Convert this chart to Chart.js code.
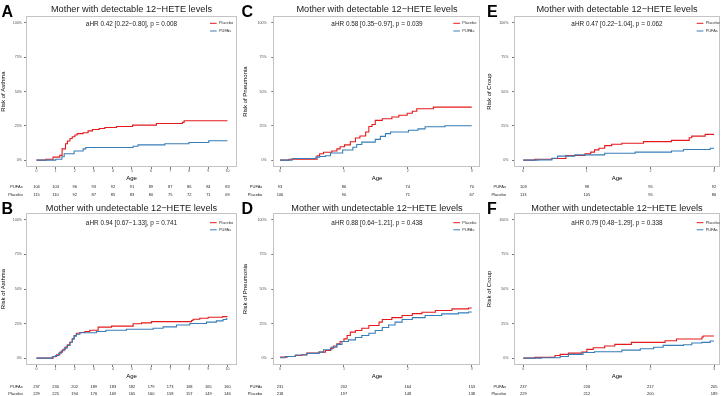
<!DOCTYPE html>
<html>
<head>
<meta charset="utf-8">
<script src="https://cdn.jsdelivr.net/npm/chart.js@4.4.1/dist/chart.umd.min.js"></script>
<style>
  body { margin: 0; background: #fff; }
  #wrap { position: relative; width: 724px; height: 396px; }
  #wrap canvas { position: absolute; left: 0; top: 0; }
</style>
</head>
<body>
<div id="wrap">
  <canvas id="pA" width="724" height="396"></canvas>
  <canvas id="pB" width="724" height="396"></canvas>
  <canvas id="pC" width="724" height="396"></canvas>
  <canvas id="pD" width="724" height="396"></canvas>
  <canvas id="pE" width="724" height="396"></canvas>
  <canvas id="pF" width="724" height="396"></canvas>
</div>
<script>
"use strict"

const ageTicks10 = [0, 1, 2, 3, 4, 5, 6, 7, 8, 9, 10];
const ageTicks3 = [0, 1, 2, 3];
const riskTicks = [0, 25, 50, 75, 100];
const groups = ["Placebo", "PUFAs"];

// A - asthma, detectable 12-HETE
const asthmaDetPlaceboAge = [0, 0.49, 0.87, 1.22, 1.34, 1.52, 1.62, 1.75, 1.87, 2.01, 2.13, 2.44, 2.7, 2.93, 3.28, 3.58, 4.19, 5.03, 6.28, 7.64, 7.73, 10];
const asthmaDetPlaceboRisk = [0, 0.7, 2.2, 3.5, 8.2, 11.9, 13.9, 15.8, 17, 18.3, 19.3, 20, 21.3, 22.3, 23, 23.8, 24.5, 25.5, 26.7, 27.5, 28.7, 28.7];
const asthmaDetPufaAge = [0, 1.01, 1.33, 1.45, 1.97, 2.44, 2.58, 5.06, 5.32, 6.72, 7.98, 9.02, 10];
const asthmaDetPufaRisk = [0, 0.7, 2.5, 4.7, 6.7, 8.2, 9.2, 10.1, 11.1, 11.9, 12.9, 14.1, 14.1];
const asthmaDetAtRiskPufa = [104, 103, 96, 93, 92, 91, 89, 87, 86, 84, 83];
const asthmaDetAtRiskPlacebo = [115, 110, 92, 87, 85, 83, 80, 75, 72, 71, 69];

// B - asthma, undetectable
const asthmaUndPlaceboAge = [0, 0.87, 1.05, 1.22, 1.36, 1.5, 1.62, 1.75, 1.87, 1.97, 2.09, 2.27, 2.53, 2.79, 3.23, 3.93, 5.06, 5.5, 6.02, 8.12, 8.2, 8.55, 8.99, 9.74, 10];
const asthmaUndPlaceboRisk = [0, 1.2, 2.4, 4.3, 6, 7.9, 9.6, 11.5, 13.9, 16.3, 18, 18.5, 19.2, 20.2, 22.4, 23.1, 24.8, 25.5, 26.4, 27.2, 28.1, 28.8, 29.6, 30, 30];
const asthmaUndPufaAge = [0, 0.82, 0.99, 1.17, 1.31, 1.45, 1.6, 1.75, 1.88, 1.97, 2.09, 2.27, 3.14, 3.63, 4.71, 6.11, 6.63, 7.33, 8.03, 8.9, 9.42, 9.77, 9.95, 10];
const asthmaUndPufaRisk = [0, 1, 1.9, 3.6, 5.3, 7.2, 9.1, 11.5, 13.9, 15.9, 17.3, 18.3, 19.2, 20.2, 20.9, 21.6, 22.6, 24, 25, 26, 26.9, 27.9, 28.4, 28.4];
const asthmaUndAtRiskPufa = [237, 230, 202, 189, 183, 182, 179, 173, 168, 165, 160];
const asthmaUndAtRiskPlacebo = [229, 225, 194, 176, 169, 165, 160, 158, 157, 149, 146];

// C - pneumonia, detectable
const pneuDetPlaceboAge = [0, 0.14, 0.58, 0.62, 0.68, 0.81, 0.89, 0.94, 1.01, 1.1, 1.18, 1.25, 1.34, 1.39, 1.44, 1.49, 1.6, 1.75, 1.86, 1.99, 2.07, 2.14, 2.4, 3];
const pneuDetPlaceboRisk = [0, 0.7, 3.2, 4.7, 5.7, 6.7, 8.2, 9.7, 11.1, 13.4, 16.1, 17.6, 20.5, 24.5, 26, 29, 30.2, 31.4, 32.7, 34.2, 35.6, 37.4, 38.6, 38.6];
const pneuDetPufaAge = [0, 0.19, 0.56, 0.62, 0.71, 0.79, 0.98, 1.14, 1.2, 1.28, 1.49, 1.57, 1.65, 1.73, 2.01, 2.16, 2.27, 2.58, 3];
const pneuDetPufaRisk = [0, 1.2, 2.2, 2.7, 3.2, 5.2, 7.4, 9.4, 11.4, 13.1, 15.1, 17.3, 19.3, 20.5, 21.8, 22.8, 24.3, 25, 25];
const pneuDetAtRiskPufa = [93, 86, 74, 70];
const pneuDetAtRiskPlacebo = [106, 90, 71, 67];

// D - pneumonia, undetectable
const pneuUndPlaceboAge = [0, 0.11, 0.24, 0.34, 0.42, 0.61, 0.71, 0.79, 0.84, 0.89, 0.94, 1.0, 1.05, 1.1, 1.18, 1.28, 1.39, 1.55, 1.6, 1.75, 1.91, 2.07, 2.22, 2.43, 2.69, 2.95, 3];
const pneuUndPlaceboRisk = [0.7, 1.2, 1.9, 2.4, 3.6, 4.3, 5.5, 7.2, 8.7, 10.3, 12, 13.9, 16.3, 18.8, 20, 21.6, 23.6, 26, 27.9, 29.3, 30.8, 32.2, 33.2, 34.4, 35.6, 36.3, 36.3];
const pneuUndPufaAge = [0, 0.08, 0.24, 0.42, 0.61, 0.68, 0.81, 0.89, 0.97, 1.07, 1.18, 1.28, 1.39, 1.49, 1.6, 1.7, 1.8, 1.91, 2.07, 2.27, 2.53, 2.79, 2.95, 3];
const pneuUndPufaRisk = [0.2, 1.2, 2.2, 3.4, 4.3, 6, 7.9, 9.9, 12, 13.2, 14.9, 16.3, 18, 20, 22.1, 24, 26, 27.9, 29.3, 30.8, 32, 32.7, 33.4, 33.4];
const pneuUndAtRiskPufa = [231, 202, 164, 153];
const pneuUndAtRiskPlacebo = [218, 197, 148, 138];

// E - croup, detectable
const croupDetPlaceboAge = [0, 0.18, 0.45, 0.67, 0.97, 1.06, 1.12, 1.19, 1.28, 1.39, 1.55, 1.89, 2.33, 2.61, 2.65, 2.86, 3];
const croupDetPlaceboRisk = [0, 0.7, 1.2, 3.4, 4.6, 5.8, 7.5, 8.7, 10.6, 11.6, 12.3, 13.5, 14.4, 16.3, 17.5, 18.8, 18.8];
const croupDetPufaAge = [0, 0.24, 0.45, 0.54, 0.81, 1.28, 1.76, 2.33, 2.52, 2.94, 3];
const croupDetPufaRisk = [0, 0.2, 1.4, 2.9, 3.8, 5, 5.8, 6.7, 7.7, 8.7, 8.7];
const croupDetAtRiskPufa = [103, 98, 95, 92];
const croupDetAtRiskPlacebo = [113, 105, 95, 86];

// F - croup, undetectable
const croupUndPlaceboAge = [0, 0.18, 0.5, 0.58, 0.71, 0.92, 1.0, 1.1, 1.28, 1.44, 1.7, 2.23, 2.41, 2.81, 2.83, 3];
const croupUndPlaceboRisk = [0, 0.5, 1.9, 2.7, 3.6, 4.4, 6.3, 7.5, 8.7, 9.9, 11.4, 12.6, 13.8, 15.3, 16, 16];
const croupUndPufaAge = [0, 0.29, 0.58, 0.71, 0.94, 1.12, 1.55, 1.84, 2.05, 2.2, 2.52, 2.65, 2.81, 2.94, 3];
const croupUndPufaRisk = [0, 0.2, 1.2, 2.7, 4.1, 4.6, 5.8, 6.8, 7.8, 9.2, 9.7, 10.9, 11.4, 12.4, 12.4];
const croupUndAtRiskPufa = [237, 226, 217, 205];
const croupUndAtRiskPlacebo = [229, 212, 200, 189];

const placeboColor = "#E41A1C";
const pufaColor = "#377EB8";
const fontFam = '"Liberation Sans", Arial, sans-serif';
const detTitle = "Mother with detectable 12\u2212HETE levels";
const undTitle = "Mother with undetectable 12\u2212HETE levels";

// layout for the grid of panels (page pixels)
const rows = [
  { top: 16, bottom: 167, titleY: 11.5, hrY: 26, legY: [23.3, 31], axisBottom: 181.3, tabY: [186.5, 195], letterY: 16.5 },
  { top: 213, bottom: 365, titleY: 210.5, hrY: 224.5, legY: [222.7, 229.8], axisBottom: 379.7, tabY: [386.7, 394], letterY: 213.5 }
];
const cols = [
  { left: 26, right: 237, yAxisLeft: 0.5, tickPad: 2, letterX: 1.5, legX: 210, tabRight: 22.7 },
  { left: 273.3, right: 480.7, yAxisLeft: 242.3, tickPad: 4.6, letterX: 241.5, legX: 453.3, tabRight: 262.3 },
  { left: 514, right: 720, yAxisLeft: 486.5, tickPad: 3.5, letterX: 487, legX: 696.7, tabRight: 506 }
];

const panels = [
  { id: "pA", row: 0, col: 0, letter: "A", title: detTitle, yTitle: "Risk of Asthma", hr: "aHR 0.42 [0.22\u22120.80], p = 0.008",
    xMin: -0.55, xMax: 10.5, xTicks: ageTicks10,
    placebo: [asthmaDetPlaceboAge, asthmaDetPlaceboRisk], pufa: [asthmaDetPufaAge, asthmaDetPufaRisk],
    atRisk: [asthmaDetAtRiskPufa, asthmaDetAtRiskPlacebo] },
  { id: "pB", row: 1, col: 0, letter: "B", title: undTitle, yTitle: "Risk of Asthma", hr: "aHR 0.94 [0.67\u22121.33], p = 0.741",
    xMin: -0.55, xMax: 10.5, xTicks: ageTicks10,
    placebo: [asthmaUndPlaceboAge, asthmaUndPlaceboRisk], pufa: [asthmaUndPufaAge, asthmaUndPufaRisk],
    atRisk: [asthmaUndAtRiskPufa, asthmaUndAtRiskPlacebo] },
  { id: "pC", row: 0, col: 1, letter: "C", title: detTitle, yTitle: "Risk of Pneumonia", hr: "aHR 0.58 [0.35\u22120.97], p = 0.039",
    xMin: -0.105, xMax: 3.14, xTicks: ageTicks3,
    placebo: [pneuDetPlaceboAge, pneuDetPlaceboRisk], pufa: [pneuDetPufaAge, pneuDetPufaRisk],
    atRisk: [pneuDetAtRiskPufa, pneuDetAtRiskPlacebo] },
  { id: "pD", row: 1, col: 1, letter: "D", title: undTitle, yTitle: "Risk of Pneumonia", hr: "aHR 0.88 [0.64\u22121.21], p = 0.438",
    xMin: -0.105, xMax: 3.14, xTicks: ageTicks3,
    placebo: [pneuUndPlaceboAge, pneuUndPlaceboRisk], pufa: [pneuUndPufaAge, pneuUndPufaRisk],
    atRisk: [pneuUndAtRiskPufa, pneuUndAtRiskPlacebo] },
  { id: "pE", row: 0, col: 2, letter: "E", title: detTitle, yTitle: "Risk of Croup", hr: "aHR 0.47 [0.22\u22121.04], p = 0.062",
    xMin: -0.146, xMax: 3.094, xTicks: ageTicks3,
    placebo: [croupDetPlaceboAge, croupDetPlaceboRisk], pufa: [croupDetPufaAge, croupDetPufaRisk],
    atRisk: [croupDetAtRiskPufa, croupDetAtRiskPlacebo] },
  { id: "pF", row: 1, col: 2, letter: "F", title: undTitle, yTitle: "Risk of Croup", hr: "aHR 0.79 [0.48\u22121.29], p = 0.338",
    xMin: -0.146, xMax: 3.094, xTicks: ageTicks3,
    placebo: [croupUndPlaceboAge, croupUndPlaceboRisk], pufa: [croupUndPufaAge, croupUndPufaRisk],
    atRisk: [croupUndAtRiskPufa, croupUndAtRiskPlacebo] }
];

// frame, titles, annotation, legend and number-at-risk table
const kmExtras = {
  id: "kmExtras",
  afterDraw(chart, args, o) {
    const ctx = chart.ctx;
    const a = chart.chartArea;
    const xs = chart.scales.x;
    ctx.save();
    ctx.strokeStyle = "#C4C4C4";
    ctx.lineWidth = 1;
    ctx.strokeRect(Math.round(a.left) + 0.5, Math.round(a.top) + 0.5, Math.round(a.right - a.left) - 1, Math.round(a.bottom - a.top) - 1);

    ctx.fillStyle = "#000";
    ctx.textBaseline = "alphabetic";
    ctx.textAlign = "left";
    ctx.font = "bold 16px " + fontFam;
    ctx.fillText(o.letter, o.letterX, o.letterY);

    const mid = (a.left + a.right) / 2;
    ctx.textAlign = "center";
    ctx.fillStyle = "#1a1a1a";
    ctx.font = "9.2px " + fontFam;
    ctx.fillText(o.title, mid, o.titleY);
    ctx.font = "6.4px " + fontFam;
    ctx.fillText(o.hr, mid, o.hrY);

    // legend
    ctx.textAlign = "left";
    ctx.textBaseline = "middle";
    ctx.font = "3.9px " + fontFam;
    [placeboColor, pufaColor].forEach((c, i) => {
      ctx.strokeStyle = c;
      ctx.lineWidth = 1;
      ctx.beginPath();
      ctx.moveTo(o.legX, o.legY[i]);
      ctx.lineTo(o.legX + 6.7, o.legY[i]);
      ctx.stroke();
      ctx.fillStyle = "#333";
      ctx.fillText(groups[i], o.legX + 9, o.legY[i]);
    });

    // number at risk
    ctx.font = "4px " + fontFam;
    ctx.fillStyle = "#222";
    const labels = ["PUFAs", "Placebo"];
    o.atRisk.forEach((vals, r) => {
      ctx.textAlign = "right";
      ctx.fillText(labels[r], o.tabRight, o.tabY[r]);
      ctx.textAlign = "center";
      vals.forEach((v, i) => ctx.fillText(String(v), xs.getPixelForValue(o.xTicks[i]), o.tabY[r]));
    });
    ctx.restore();
  }
};

function toPoints(pair) {
  return pair[0].map((a, i) => ({ x: a, y: pair[1][i] }));
}

function createPanel(p) {
  const r = rows[p.row];
  const c = cols[p.col];
  new Chart(document.getElementById(p.id), {
    type: "line",
    data: {
      datasets: [
        { label: "PUFAs", data: toPoints(p.pufa), borderColor: pufaColor, order: 1 },
        { label: "Placebo", data: toPoints(p.placebo), borderColor: placeboColor, order: 2 }
      ]
    },
    plugins: [kmExtras],
    options: {
      responsive: false,
      animation: false,
      events: [],
      layout: { padding: { left: c.yAxisLeft, top: r.top, right: 724 - c.right, bottom: 396 - r.axisBottom } },
      elements: {
        point: { radius: 0 },
        line: { borderWidth: 1.1, stepped: true, tension: 0, fill: false }
      },
      plugins: {
        legend: { display: false },
        tooltip: { enabled: false },
        kmExtras: {
          letter: p.letter, letterX: c.letterX, letterY: r.letterY,
          title: p.title, titleY: r.titleY, hr: p.hr, hrY: r.hrY,
          legX: c.legX, legY: r.legY,
          atRisk: p.atRisk, xTicks: p.xTicks, tabRight: c.tabRight, tabY: r.tabY
        }
      },
      scales: {
        x: {
          type: "linear",
          min: p.xMin,
          max: p.xMax,
          afterFit: s => { s.height = r.axisBottom - r.bottom; },
          afterBuildTicks: s => { s.ticks = p.xTicks.map(v => ({ value: v })); },
          border: { display: false },
          grid: { display: true, drawOnChartArea: false, drawTicks: true, tickLength: 2, color: "#555", lineWidth: 0.8 },
          ticks: { font: { size: 3.6, family: fontFam }, color: "#4D4D4D", padding: 0, autoSkip: false, maxRotation: 0 },
          title: { display: true, text: "Age", font: { size: 6, family: fontFam, lineHeight: 1 }, padding: 0, color: "#000" }
        },
        y: {
          type: "linear",
          min: -5,
          max: 105,
          afterFit: s => { s.width = c.left - c.yAxisLeft; },
          afterBuildTicks: s => { s.ticks = riskTicks.map(v => ({ value: v })); },
          border: { display: false },
          grid: { display: true, drawOnChartArea: false, drawTicks: true, tickLength: 2, color: "#555", lineWidth: 0.8 },
          ticks: { font: { size: 3.6, family: fontFam }, color: "#4D4D4D", padding: c.tickPad, callback: v => v + "%" },
          title: { display: true, text: p.yTitle, font: { size: 6, family: fontFam, lineHeight: 1 }, padding: 0, color: "#000" }
        }
      }
    }
  });
}

panels.forEach(createPanel);
</script>
</body>
</html>
